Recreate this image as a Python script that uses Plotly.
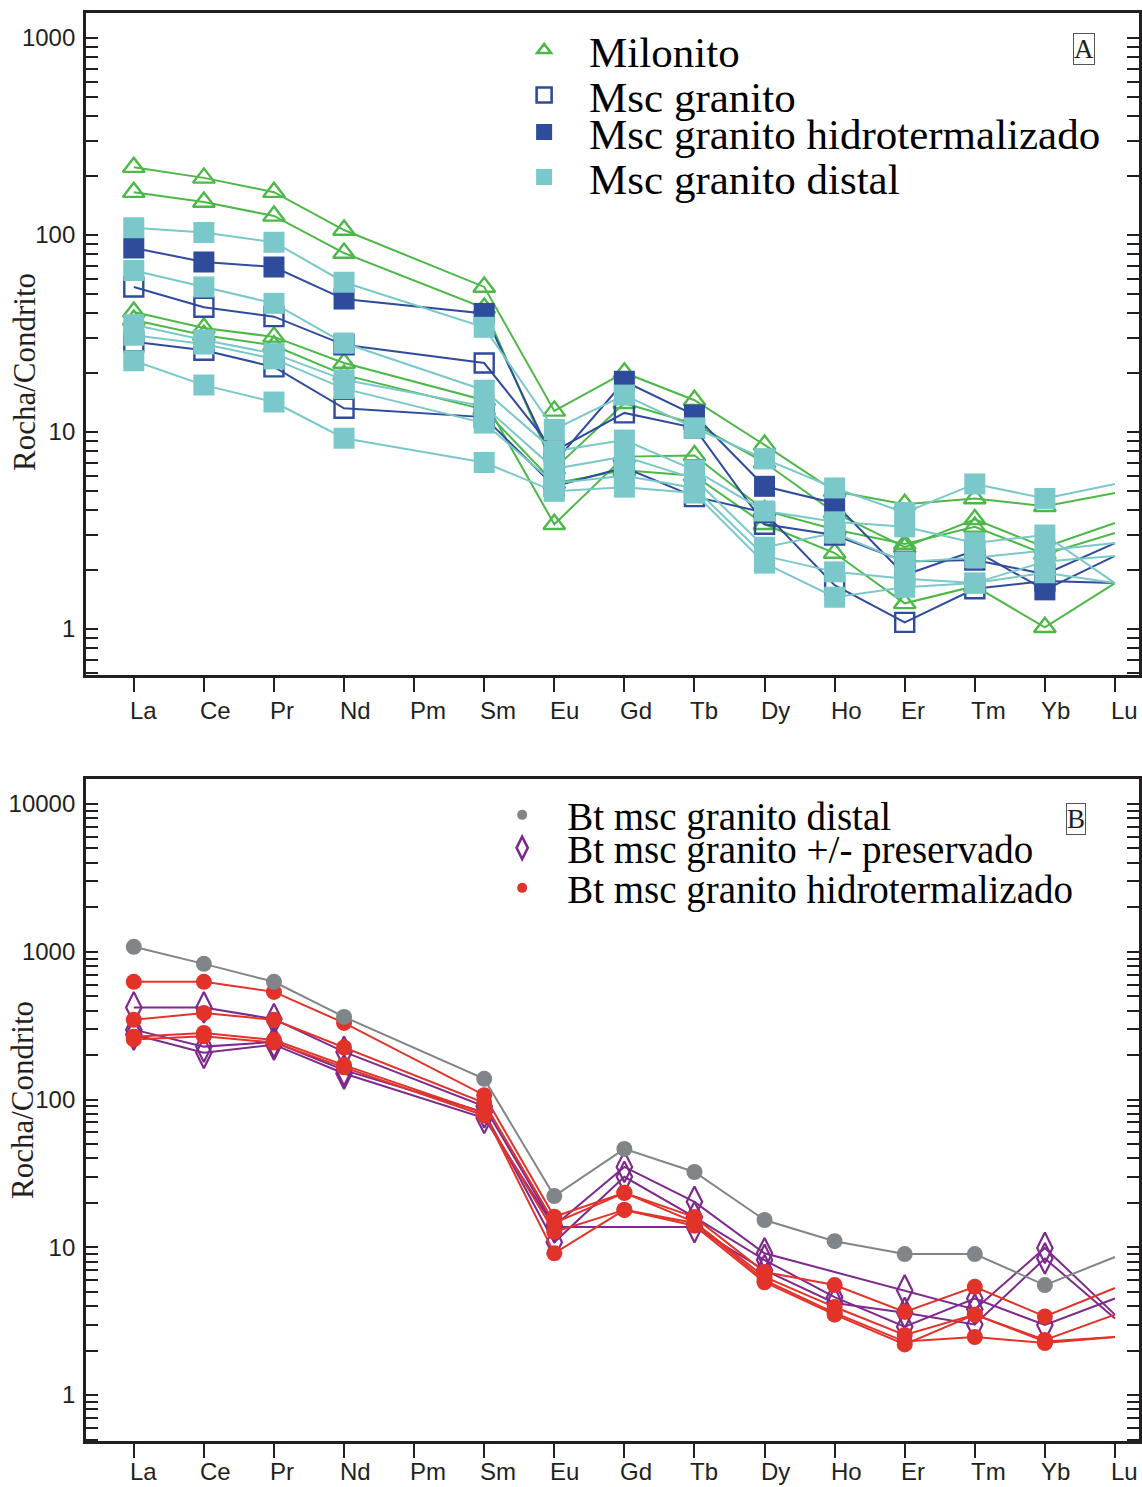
import plotly.graph_objects as go

# Rare earth elements (chondrite-normalised spider diagram)
ELEMENTS = ['La', 'Ce', 'Pr', 'Nd', 'Pm', 'Sm', 'Eu', 'Gd', 'Tb', 'Dy', 'Ho', 'Er', 'Tm', 'Yb', 'Lu']

# ---- Panel A: whole rock ----
MILONITO_1 = [221, 195, 165, 106, None, 54.5, 12.8, 20.0, 14.5, 8.6, 5.0, 4.3, 4.6, 4.2, 4.9]
MILONITO_2 = [165, 147, 125, 81, None, 42.6, 6.5, 14.0, 11.0, 7.0, 3.9, 2.6, 3.6, 2.6, 3.45]
MILONITO_3 = [40.7, 33.7, 30.4, 22.4, None, 14.5, 3.4, 7.5, 7.6, 4.0, 3.2, 2.7, 3.3, 2.4, 3.07]
MILONITO_4 = [37, 31, 27.5, 19.5, None, 13.0, 5.5, 6.4, 6.0, 3.4, 2.43, 1.35, 1.65, 1.02, 1.71]

MSC_GRANITO_1 = [54.5, 43, 38.5, 27.7, None, 22.4, 8.0, 12.5, 10.5, 3.4, 3.0, 2.2, 2.24, 1.9, 2.73]
MSC_GRANITO_2 = [28.7, 26, 21.4, 13.2, None, 11.9, 5.3, 6.6, 4.7, 3.9, 1.67, 1.08, 1.6, 1.75, 1.71]

MSC_HIDRO_1 = [86, 73, 68.8, 47.3, None, 40, 7.0, 18.1, 12.2, 5.3, 4.35, 1.88, 2.5, 1.58, 2.35]

MSC_DISTAL_1 = [109, 103, 92, 57.6, None, 34, 10.3, 15.4, 10.5, 7.3, 5.2, 3.9, 5.45, 4.6, 5.45]
MSC_DISTAL_2 = [66, 54.5, 45, 28.3, None, 16.3, 8.0, 9.1, 6.4, 3.97, 3.5, 3.3, 2.73, 3.0, 1.71]
MSC_DISTAL_3 = [35, 29.3, 25, 18.4, None, 13.5, 6.5, 7.5, 5.8, 2.6, 3.07, 2.19, 2.3, 2.5, 2.73]
MSC_DISTAL_4 = [31, 28, 23.5, 16.6, None, 11.1, 5.5, 6.0, 5.2, 2.35, 1.95, 1.8, 1.71, 2.2, 2.35]
MSC_DISTAL_5 = [23, 17.3, 14.2, 9.3, None, 7.0, 5.0, 5.25, 4.9, 2.16, 1.45, 1.63, 1.71, 1.93, 1.71]

# ---- Panel B: biotite ----
BT_DISTAL_1 = [1080, 828, 626, 362, None, 138, 22.2, 46.3, 32.3, 15.3, 11.0, 9.0, 9.0, 5.55, 8.6]

BT_PRESERVADO_1 = [420, 420, 350, 210, None, 90, 14.0, 35, 20.3, 9.1, None, 5.1, 3.8, 9.9, 3.5]
BT_PRESERVADO_2 = [297, 228, 245, 158, None, 82, 10.8, 30, 16.0, 8.2, 4.6, 2.9, 4.5, 2.98, 4.5]
BT_PRESERVADO_3 = [275, 207, 235, 150, None, 75, 13.7, None, 13.7, 7.0, 4.2, 3.6, 3.0, 8.4, 3.3]

BT_HIDRO_1 = [626, 626, 535, 330, None, 107, 16.1, 23.4, 16.0, 6.8, 5.55, 3.65, 5.4, 3.4, 5.3]
BT_HIDRO_2 = [346, 385, 346, 225, None, 95, 14.6, 23.4, 14.8, 6.3, 3.94, 2.55, 3.5, 2.36, 3.5]
BT_HIDRO_3 = [266, 282, 253, 171, None, 81, 9.1, 17.9, 14.6, 6.0, 3.6, 2.3, 2.47, 2.25, 2.47]
BT_HIDRO_4 = [255, 268, 243, 165, None, 78, 12.7, 17.9, 14.0, 5.8, 3.5, 2.2, 3.5, 2.3, 2.47]

LEGEND_A = ['Milonito', 'Msc granito', 'Msc granito hidrotermalizado', 'Msc granito distal']
LEGEND_B = ['Bt msc granito distal', 'Bt msc granito +/- preservado', 'Bt msc granito hidrotermalizado']
Y_TITLE = 'Rocha/Condrito'

# ---- styles ----
GREEN = '#4DB848'
NAVY = '#2F4B9B'
TEAL = '#7AC8C9'
PURPLE = '#7D2A8C'
RED = '#E2332B'
GREY = '#7F8589'
BLACK = '#231F20'
SERIF = 'Liberation Serif, Times New Roman, serif'
SANS = 'Liberation Sans, Arial, sans-serif'

W, H = 1142, 1487


def px_x(p):
    return p / W


def px_y(p):
    return 1 - p / H


# markers are not drawn on the last element (Lu): the line simply ends there
NO_LAST = [1] * (len(ELEMENTS) - 1) + [0]

STYLE = {
    'mil': dict(color=GREEN, symbol='triangle-up-open', size=19, lw=2.4),
    'gra': dict(color=NAVY, symbol='square-open', size=19, lw=2.4),
    'hid': dict(color=NAVY, symbol='square', size=21, lw=0),
    'dis': dict(color=TEAL, symbol='square', size=21, lw=0),
    'btd': dict(color=GREY, symbol='circle', size=16, lw=0),
    'btp': dict(color=PURPLE, symbol='diamond-tall-open', size=22, lw=2.2),
    'bth': dict(color=RED, symbol='circle', size=16, lw=0),
}


def series(values, key, xa, ya):
    s = STYLE[key]
    return go.Scatter(
        x=ELEMENTS, y=values, mode='lines+markers', connectgaps=True,
        xaxis=xa, yaxis=ya, showlegend=False, hoverinfo='skip',
        line=dict(color=s['color'], width=2),
        marker=dict(symbol=s['symbol'], size=s['size'], color=s['color'],
                    opacity=NO_LAST,
                    line=dict(color=s['color'], width=s['lw'])),
    )


fig = go.Figure()

# Panel A, drawn back to front
for v in (MILONITO_1, MILONITO_2, MILONITO_3, MILONITO_4):
    fig.add_trace(series(v, 'mil', 'x', 'y'))
for v in (MSC_GRANITO_1, MSC_GRANITO_2):
    fig.add_trace(series(v, 'gra', 'x', 'y'))
for v in (MSC_HIDRO_1,):
    fig.add_trace(series(v, 'hid', 'x', 'y'))
for v in (MSC_DISTAL_1, MSC_DISTAL_2, MSC_DISTAL_3, MSC_DISTAL_4, MSC_DISTAL_5):
    fig.add_trace(series(v, 'dis', 'x', 'y'))

# Panel B
for v in (BT_PRESERVADO_1, BT_PRESERVADO_2, BT_PRESERVADO_3):
    fig.add_trace(series(v, 'btp', 'x2', 'y2'))
for v in (BT_HIDRO_1, BT_HIDRO_2, BT_HIDRO_3, BT_HIDRO_4):
    fig.add_trace(series(v, 'bth', 'x2', 'y2'))
for v in (BT_DISTAL_1,):
    fig.add_trace(series(v, 'btd', 'x2', 'y2'))

# ---- legends: one legend per entry so each row sits where it belongs ----
legend_keys = [
    (LEGEND_A[0], 'mil', 12, 'x', 'y', 50, 43),
    (LEGEND_A[1], 'gra', 15, 'x', 'y', 95, 43),
    (LEGEND_A[2], 'hid', 16, 'x', 'y', 132, 43),
    (LEGEND_A[3], 'dis', 16, 'x', 'y', 177, 43),
    (LEGEND_B[0], 'btd', 10, 'x2', 'y2', 815, 39),
    (LEGEND_B[1], 'btp', 16, 'x2', 'y2', 848, 39),
    (LEGEND_B[2], 'bth', 10, 'x2', 'y2', 888, 39),
]
legend_layout = {}
for i, (name, key, size, xa, ya, ypix, fsize) in enumerate(legend_keys):
    lid = 'legend' if i == 0 else f'legend{i + 1}'
    s = STYLE[key]
    fig.add_trace(go.Scatter(
        x=[None], y=[None], mode='markers', name=name, legend=lid,
        xaxis=xa, yaxis=ya, showlegend=True, hoverinfo='skip',
        marker=dict(symbol=s['symbol'], size=size, color=s['color'],
                    line=dict(color=s['color'], width=2.6 if s['lw'] else 0)),
    ))
    left = 500 if i < 4 else 478
    legend_layout[lid] = dict(
        x=px_x(left), y=px_y(ypix), xanchor='left', yanchor='middle',
        xref='paper', yref='paper',
        bgcolor='rgba(0,0,0,0)', borderwidth=0, itemwidth=80,
        font=dict(family=SERIF, size=fsize, color='black'),
        itemclick=False, itemdoubleclick=False,
    )

# ---- axes ----
X_DOMAIN = [px_x(86), px_x(1141)]
X_RANGE = [-0.684, 14.343]


def xaxis_cfg(anchor):
    return dict(
        domain=X_DOMAIN, anchor=anchor, type='category', range=X_RANGE,
        categoryorder='array', categoryarray=ELEMENTS,
        showline=True, linecolor=BLACK, linewidth=2.5, mirror=True,
        ticks='outside', ticklen=14, tickwidth=2, tickcolor=BLACK,
        showticklabels=False, showgrid=False, zeroline=False,
    )


def yaxis_cfg(anchor, domain, rng):
    return dict(
        domain=domain, anchor=anchor, type='log', range=rng,
        showline=True, linecolor=BLACK, linewidth=2.5, mirror='ticks',
        ticks='inside', ticklen=12, tickwidth=2, tickcolor=BLACK,
        dtick=1, tick0=0, tickformat='d',
        minor=dict(dtick='D1', ticks='inside', ticklen=12, tickwidth=2,
                   tickcolor=BLACK, showgrid=False),
        tickfont=dict(family=SANS, size=24, color=BLACK),
        ticklabelstandoff=3,
        showgrid=False, zeroline=False,
    )


fig.update_layout(
    width=W, height=H,
    margin=dict(l=0, r=0, t=0, b=0),
    paper_bgcolor='white', plot_bgcolor='white',
    xaxis=xaxis_cfg('y'),
    xaxis2=xaxis_cfg('y2'),
    yaxis=yaxis_cfg('x', [px_y(675), px_y(13)], [-0.2335, 3.127]),
    yaxis2=yaxis_cfg('x2', [px_y(1441), px_y(779)], [-0.311, 4.169]),
    **legend_layout,
)

annotations = []
# element labels, left-aligned just before each tick
for xa, ypix, anchor in (('x', 710, 'middle'), ('x2', 1487, 'bottom')):
    for el in ELEMENTS:
        annotations.append(dict(
            x=el, xref=xa, y=px_y(ypix), yref='paper', text=el,
            xanchor='left', yanchor=anchor, xshift=-6, showarrow=False,
            font=dict(family=SANS, size=24, color=BLACK),
        ))
# y titles
for xp, yp in ((25, 372), (22, 1100)):
    annotations.append(dict(
        x=px_x(xp), y=px_y(yp), xref='paper', yref='paper', text=Y_TITLE,
        textangle=-90, showarrow=False, xanchor='center', yanchor='middle',
        font=dict(family=SERIF, size=31, color=BLACK),
    ))
# panel letters
for letter, xp, yp in (('A', 1085.5, 49), ('B', 1077.5, 818.5)):
    annotations.append(dict(
        x=px_x(xp), y=px_y(yp), xref='paper', yref='paper', text=letter,
        showarrow=False, xanchor='center', yanchor='middle',
        bordercolor='#555555', borderwidth=1, borderpad=0,
        font=dict(family=SERIF, size=27, color=BLACK),
    ))
fig.update_layout(annotations=annotations)

fig.write_html('out.html')
